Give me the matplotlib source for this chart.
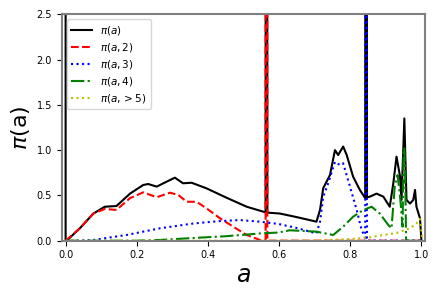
import numpy as np
import matplotlib
matplotlib.use("Agg")
import matplotlib.pyplot as plt

# pi(a): total (spikes clipped above the axis)
a_tot = [0.0, 0.0, 0.003, 0.04, 0.078, 0.11, 0.143, 0.181, 0.218, 0.232,
         0.256, 0.284, 0.307, 0.33, 0.354, 0.396, 0.452, 0.509, 0.556, 0.562,
         0.563, 0.566, 0.567, 0.602, 0.65, 0.705, 0.715, 0.724, 0.743, 0.757,
         0.766, 0.78, 0.79, 0.808, 0.827, 0.842, 0.843, 0.846, 0.847, 0.855,
         0.874, 0.893, 0.911, 0.921, 0.93, 0.94, 0.944, 0.952, 0.958, 0.968,
         0.977, 0.982, 0.986, 0.996, 1.0]
p_tot = [10, 0, 0, 0.137, 0.30, 0.375, 0.383, 0.52, 0.615, 0.626,
         0.597, 0.652, 0.696, 0.634, 0.64, 0.578, 0.475, 0.375, 0.32, 0.315,
         10, 10, 0.31, 0.30, 0.26, 0.21, 0.34, 0.58, 0.725, 1.0,
         0.946, 1.04, 0.946, 0.707, 0.56, 0.47, 10, 10, 0.48, 0.486,
         0.52, 0.486, 0.375, 0.634, 0.928, 0.707, 0.45, 1.35, 0.45, 0.41,
         0.45, 0.56, 0.375, 0.247, 0]

a_2 = [0.0, 0.04, 0.078, 0.11, 0.143, 0.181, 0.218, 0.256, 0.293, 0.317,
       0.34, 0.368, 0.396, 0.434, 0.471, 0.509, 0.546, 0.562, 0.563, 0.566,
       0.567, 1.0]
p_2 = [0, 0.137, 0.30, 0.35, 0.34, 0.47, 0.534, 0.48, 0.53, 0.505,
       0.43, 0.43, 0.357, 0.247, 0.155, 0.063, 0.008, 0, 10, 10,
       0, 0]

a_3 = [0.0, 0.02, 0.078, 0.171, 0.265, 0.359, 0.434, 0.49, 0.546, 0.598,
       0.65, 0.705, 0.715, 0.724, 0.738, 0.757, 0.771, 0.78, 0.799, 0.818,
       0.832, 0.841, 0.842, 0.843, 0.846, 0.847, 1.0]
p_3 = [0, 0, 0.008, 0.063, 0.137, 0.19, 0.217, 0.228, 0.21, 0.185,
       0.14, 0.08, 0.21, 0.486, 0.634, 0.87, 0.836, 0.855, 0.6, 0.34,
       0.118, 0.044, 0.0, 10, 10, 0, 0]

a_4 = [0.0, 0.2, 0.265, 0.359, 0.452, 0.546, 0.598, 0.63, 0.705, 0.752,
       0.78, 0.808, 0.837, 0.86, 0.883, 0.907, 0.916, 0.925, 0.933, 0.94,
       0.947, 0.950, 0.952, 0.954, 0.957, 1.0]
p_4 = [0, 0, 0.008, 0.03, 0.05, 0.08, 0.09, 0.115, 0.1, 0.063,
       0.155, 0.265, 0.34, 0.375, 0.30, 0.173, 0.137, 0.6, 0.725, 0.486,
       0.155, 1.0, 1.02, 0.8, 0, 0]

a_5 = [0.0, 0.7, 0.808, 0.855, 0.893, 0.93, 0.968, 0.986, 0.996, 1.0, 1.003]
p_5 = [0, 0, 0.02, 0.037, 0.063, 0.085, 0.137, 0.19, 0.24, 0.1, 0]

labels = [r"$\pi(a)$", r"$\pi(a,2)$", r"$\pi(a,3)$", r"$\pi(a,4)$", r"$\pi(a,>5)$"]

fig = plt.figure(figsize=(4.42, 2.94), dpi=100)
ax = fig.add_axes([0.1396, 0.1813, 0.8219, 0.7701])

lw = 1.5
ax.plot(a_tot, p_tot, color="k", linestyle="-", lw=lw, label=labels[0])
ax.plot(a_2, p_2, color="r", linestyle="--", lw=lw, label=labels[1])
ax.plot(a_3, p_3, color="b", linestyle=":", lw=lw, label=labels[2])
ax.plot(a_4, p_4, color="g", linestyle="-.", lw=lw, label=labels[3])
ax.plot(a_5, p_5, color="y", linestyle=":", lw=lw, label=labels[4])

ax.set_xlim(-0.011, 1.01)
ax.set_ylim(0, 2.5)
ax.set_xticks(np.arange(0, 1.01, 0.2))
ax.set_yticks(np.arange(0, 2.51, 0.5))
ax.tick_params(labelsize=7)

for s in ax.spines.values():
    s.set_color("gray")
    s.set_linewidth(1.5)

ax.set_xlabel(r"$a$", fontsize=17, labelpad=2)
ax.set_ylabel(r"$\pi$(a)", fontsize=16, labelpad=3)
ax.legend(loc="upper left", fontsize=7.5, labelspacing=0.4)

fig.savefig("out.png", dpi=100)
